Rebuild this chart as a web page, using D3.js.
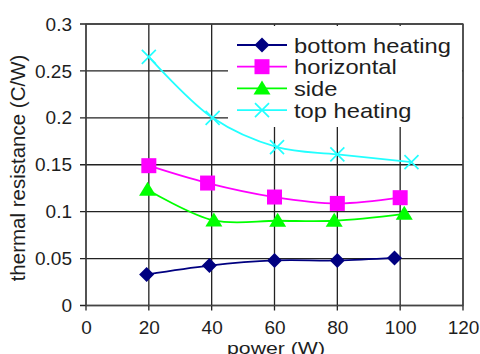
<!DOCTYPE html>
<html>
<head>
<meta charset="utf-8">
<script src="https://cdn.jsdelivr.net/npm/d3@7"></script>
<style>
  body { margin: 0; background: #fff; }
  svg { display: block; font-family: Arial, "Liberation Sans", sans-serif; }
</style>
</head>
<body>
<div id="chart"></div>
<script>
// data
const seriesNames = ["bottom heating", "horizontal", "side", "top heating"];
const bottomPower = [19.3, 39.3, 60, 80, 98.2];
const bottomRes = [0.033, 0.0425, 0.048, 0.048, 0.0507];
const horizPower = [20, 38.7, 60, 80, 100];
const horizRes = [0.149, 0.1305, 0.1156, 0.1088, 0.1149];
const sidePower = [19.6, 40.7, 61, 79, 101.3];
const sideRes = [0.1234, 0.0906, 0.0903, 0.0903, 0.0977];
const topPower = [20, 40.3, 60.8, 80, 103.6];
const topRes = [0.265, 0.2, 0.1688, 0.161, 0.1529];
const xTicks = [0, 20, 40, 60, 80, 100, 120];
const yTicks = [0, 0.05, 0.1, 0.15, 0.2, 0.25, 0.3];

const W = 480, H = 354;
const plotL = 86, plotR = 463, plotT = 24, plotB = 305.5;
const textColor = "#1e1e1e";
const fontFam = "Arial, 'Liberation Sans', sans-serif";

const svg = d3.select("#chart").append("svg")
    .attr("width", W)
    .attr("height", H);

const x = d3.scaleLinear().domain([0, 120]).range([plotL, plotR]);
const y = d3.scaleLinear().domain([0, 0.3]).range([plotB, plotT]);

// grid lines
svg.append("g")
    .selectAll("line")
    .data(xTicks)
    .enter().append("line")
    .attr("x1", d => x(d)).attr("x2", d => x(d))
    .attr("y1", plotT).attr("y2", plotB + 5)
    .attr("stroke", "#222").attr("stroke-width", 1.3);

svg.append("g")
    .selectAll("line")
    .data(yTicks)
    .enter().append("line")
    .attr("x1", plotL - 6).attr("x2", plotR)
    .attr("y1", d => y(d)).attr("y2", d => y(d))
    .attr("stroke", "#222").attr("stroke-width", 1.3);

// frame
svg.append("rect")
    .attr("x", plotL).attr("y", plotT)
    .attr("width", plotR - plotL).attr("height", plotB - plotT)
    .attr("fill", "none").attr("stroke", "#444").attr("stroke-width", 1.3);

// tick labels via d3 axes (lines hidden)
const xAxis = svg.append("g")
    .attr("transform", `translate(0,${plotB})`)
    .call(d3.axisBottom(x).tickValues(xTicks).tickSize(0).tickPadding(15).tickFormat(d3.format("d")));
xAxis.select(".domain").remove();
xAxis.selectAll("text").attr("font-size", 19).attr("fill", textColor).attr("font-family", fontFam);

const yAxis = svg.append("g")
    .attr("transform", `translate(${plotL},0)`)
    .call(d3.axisLeft(y).tickValues(yTicks).tickSize(0).tickPadding(14).tickFormat(d => String(+d.toFixed(2))));
yAxis.select(".domain").remove();
yAxis.selectAll("text").attr("font-size", 19).attr("fill", textColor).attr("font-family", fontFam);

svg.append("text")
    .attr("transform", "translate(25,168) rotate(-90)")
    .attr("text-anchor", "middle")
    .attr("font-size", 20.5)
    .attr("fill", textColor)
    .text("thermal resistance (C/W)");

svg.append("text")
    .attr("transform", "translate(276,354) scale(1.25,1)")
    .attr("text-anchor", "middle")
    .attr("font-size", 17)
    .attr("fill", textColor)
    .text("power (W)");

// series
const series = [
    { name: seriesNames[0], px: bottomPower, py: bottomRes, color: "#000080", marker: "diamond" },
    { name: seriesNames[1], px: horizPower, py: horizRes, color: "#ff00ff", marker: "square" },
    { name: seriesNames[2], px: sidePower, py: sideRes, color: "#00ff00", marker: "triangle" },
    { name: seriesNames[3], px: topPower, py: topRes, color: "#22ffff", marker: "cross" }
];

const line = d3.line()
    .x(d => x(d[0]))
    .y(d => y(d[1]))
    .curve(d3.curveCatmullRom.alpha(0.5));

function drawMarker(g, type, color) {
    if (type === "diamond") {
        g.append("path").attr("d", "M0,-7.5L7.5,0L0,7.5L-7.5,0Z").attr("fill", color);
    } else if (type === "square") {
        g.append("rect").attr("x", -7.5).attr("y", -7.5).attr("width", 15).attr("height", 15).attr("fill", color);
    } else if (type === "triangle") {
        g.append("path").attr("d", "M0,-8L8.5,6L-8.5,6Z").attr("fill", color);
    } else {
        g.append("path").attr("d", "M-7,-7L7,7M-7,7L7,-7")
            .attr("stroke", color).attr("stroke-width", 1.7).attr("fill", "none");
    }
}

// legend background, under the curves
svg.append("rect")
    .attr("x", 228).attr("y", 26)
    .attr("width", 234).attr("height", 101)
    .attr("fill", "#fff");

series.forEach(s => {
    const pts = s.px.map((p, i) => [p, s.py[i]]);
    svg.append("path")
        .datum(pts)
        .attr("fill", "none")
        .attr("stroke", s.color)
        .attr("stroke-width", 1.8)
        .attr("d", line);
    pts.forEach(p => {
        const g = svg.append("g").attr("transform", `translate(${x(p[0])},${y(p[1])})`);
        drawMarker(g, s.marker, s.color);
    });
});

// legend
const legend = svg.append("g");
series.forEach((s, i) => {
    const ly = 45 + i * 21.7;
    legend.append("line")
        .attr("x1", 237).attr("x2", 287)
        .attr("y1", ly).attr("y2", ly)
        .attr("stroke", s.color).attr("stroke-width", 1.8);
    const g = legend.append("g").attr("transform", `translate(262,${ly})`);
    drawMarker(g, s.marker, s.color);
    legend.append("text")
        .attr("transform", `translate(294,${ly}) scale(1.13,1)`)
        .attr("dy", "0.36em")
        .attr("font-size", 21)
        .attr("fill", textColor)
        .text(s.name);
});
</script>
</body>
</html>
